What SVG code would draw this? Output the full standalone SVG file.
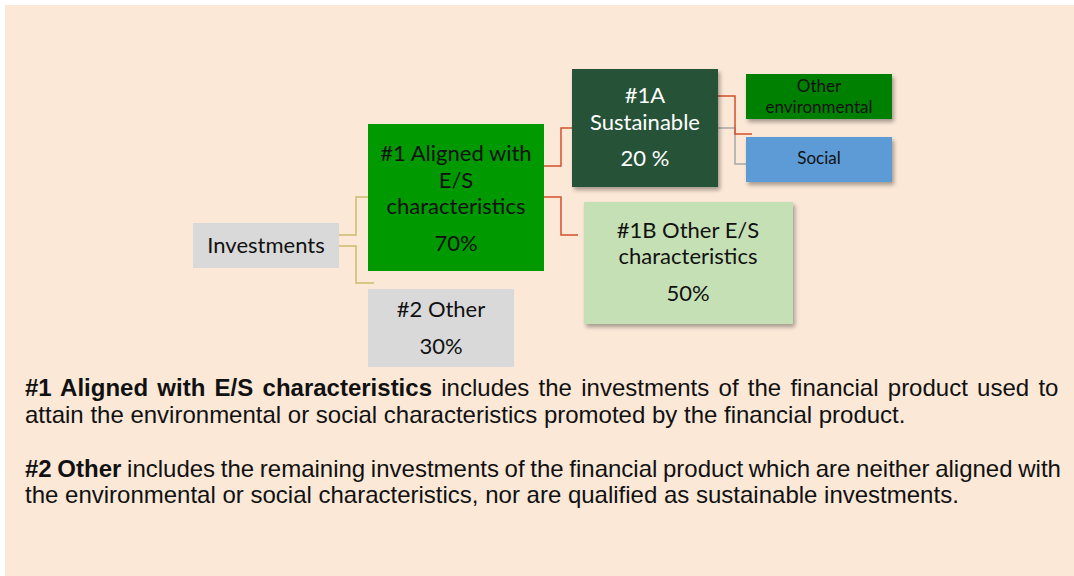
<svg xmlns="http://www.w3.org/2000/svg" width="1074" height="576" viewBox="0 0 1074 576">
<defs>
<filter id="sh" x="-10%" y="-10%" width="130%" height="130%">
<feGaussianBlur in="SourceAlpha" stdDeviation="2"/>
<feOffset dx="2" dy="3" result="b"/>
<feComponentTransfer><feFuncA type="linear" slope="0.35"/></feComponentTransfer>
<feMerge><feMergeNode/><feMergeNode in="SourceGraphic"/></feMerge>
</filter>
</defs>
<style>
.n{font-family:Lato,"Open Sans",sans-serif;font-size:22px;text-anchor:middle;fill:#111}
.w{fill:#fff}
.s{font-size:17px}
.c{fill:none;stroke-width:1.5}
.y{stroke:#CDBB6E}
.r{stroke:#D2502C}
.g{stroke:#A6A6A6}
.t{font-family:"Liberation Sans",Arial,sans-serif;font-size:24px;fill:#111}
.b{font-weight:bold}
</style>
<rect x="5" y="5" width="1069" height="571" fill="#FBE8D7"/>
<g id="connectors">
<polyline class="c y" points="339,235 356,235 356,197 368,197"/>
<polyline class="c y" points="339,246 356,246 356,283 374,283"/>
<polyline class="c r" points="544,166 561,166 561,128 572,128"/>
<polyline class="c r" points="544,197 561,197 561,235 578,235"/>
<polyline class="c g" points="718,128 735,128 735,164 746,164"/>
<polyline class="c r" points="718,96 735,96 735,134 752,134"/>
</g>
<g id="investments">
<rect x="193" y="223" width="146" height="45" fill="#D9D9D9"/>
<text class="n" x="266" y="253">Investments</text>
</g>
<g id="aligned">
<rect x="368" y="124" width="176" height="147" fill="#009900"/>
<text class="n" x="456" y="161">#1 Aligned with</text>
<text class="n" x="456" y="188">E/S</text>
<text class="n" x="456" y="214">characteristics</text>
<text class="n" x="456" y="251">70%</text>
</g>
<g id="other">
<rect x="368" y="289" width="146" height="78" fill="#D9D9D9"/>
<text class="n" x="441" y="317">#2 Other</text>
<text class="n" x="441" y="354">30%</text>
</g>
<g id="sustainable">
<rect x="572" y="69" width="146" height="118" fill="#265339" filter="url(#sh)"/>
<text class="n w" x="645" y="103">#1A</text>
<text class="n w" x="645" y="130">Sustainable</text>
<text class="n w" x="645" y="166">20 %</text>
</g>
<g id="otherenv">
<rect x="746" y="74" width="146" height="45" fill="#008000" filter="url(#sh)"/>
<text class="n s" x="819" y="92">Other</text>
<text class="n s" x="819" y="113">environmental</text>
</g>
<g id="social">
<rect x="746" y="137" width="146" height="45" fill="#5B9BD5" filter="url(#sh)"/>
<text class="n s" x="819" y="164">Social</text>
</g>
<g id="otheres">
<rect x="584" y="202" width="209" height="122" fill="#C5E0B4" filter="url(#sh)"/>
<text class="n" x="688" y="238">#1B Other E/S</text>
<text class="n" x="688" y="264">characteristics</text>
<text class="n" x="688" y="301">50%</text>
</g>
<g id="notes">
<text class="t" x="25" y="396" word-spacing="2.6"><tspan class="b">#1 Aligned with E/S characteristics</tspan> includes the investments of the financial product used to</text>
<text class="t" x="25" y="423">attain the environmental or social characteristics promoted by the financial product.</text>
<text class="t" x="25" y="477" word-spacing="-1"><tspan class="b">#2 Other</tspan> includes the remaining investments of the financial product which are neither aligned with</text>
<text class="t" x="25" y="503">the environmental or social characteristics, nor are qualified as sustainable investments.</text>
</g>
</svg>
